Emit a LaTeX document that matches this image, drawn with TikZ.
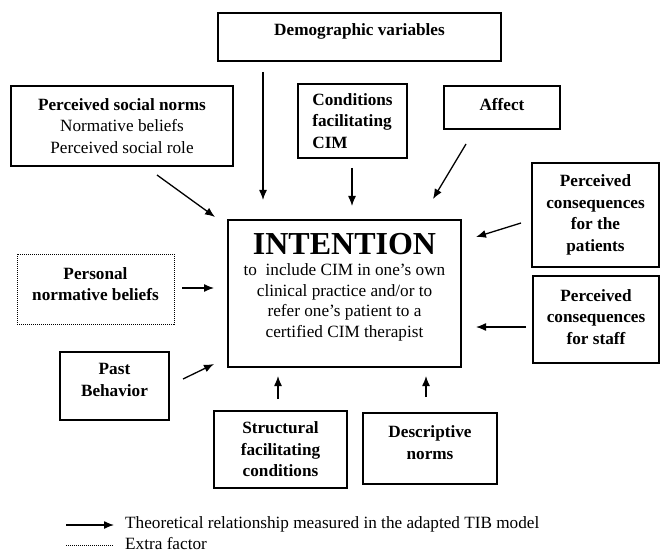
\documentclass[tikz,border=0pt]{standalone}
\usepackage{fontspec}
\setmainfont{Liberation Serif}
\usetikzlibrary{arrows.meta}
\newcommand\lowstrut[1]{\rule[-#1]{0pt}{#1}}
\begin{document}
\begin{tikzpicture}[x=1pt,y=-1pt,
 box/.style={draw,line width=1.3pt,inner sep=0pt,align=center,font=\fontsize{17.2}{21.5}\selectfont\bfseries},
 dotbox/.style={box,line width=1pt,dash pattern=on 1pt off 1pt},
 arr/.style={line width=1.3pt,-{Latex[length=10pt,width=8pt]}},
 legtext/.style={anchor=west,inner sep=0pt,font=\fontsize{17.2}{20}\selectfont}]
\useasboundingbox (0,0) rectangle (660,553);
% boxes
\node[box,minimum width=283pt,minimum height=48pt] (demo) at (359.5,37) {Demographic variables\lowstrut{14pt}};
\node[box,minimum width=222pt,minimum height=80pt,font=\fontsize{17.2}{21.5}\selectfont] (social) at (122,126)
  {\textbf{Perceived social norms}\\Normative beliefs\\Perceived social role};
\node[box,minimum width=109pt,minimum height=74pt,align=left] (cond) at (352.5,121) {Conditions\\facilitating\\CIM};
\node[box,minimum width=116pt,minimum height=43pt] (affect) at (502,107.5) {Affect\lowstrut{7pt}};
\node[box,minimum width=127pt,minimum height=104pt] (patients) at (595.5,215) {Perceived\\consequences\\for the\\patients};
\node[box,minimum width=126pt,minimum height=87pt] (staff) at (596,319.5) {Perceived\\consequences\\for staff\lowstrut{5pt}};
\node[box,minimum width=233pt,minimum height=147pt,font=\fontsize{17.2}{20.5}\selectfont] (intent) at (344.5,293.5)
  {{\fontsize{32}{36}\selectfont\bfseries INTENTION}\\[1pt]to\ \ include CIM in one’s own\\clinical practice and/or to\\refer one’s patient to a\\certified CIM therapist\lowstrut{17pt}};
\node[dotbox,minimum width=157pt,minimum height=70pt] (personal) at (95.5,289) {Personal\\normative beliefs\lowstrut{10pt}};
\node[box,minimum width=109pt,minimum height=68pt] (past) at (114.5,386) {Past\\Behavior\lowstrut{12pt}};
\node[box,minimum width=133pt,minimum height=77pt] (struct) at (280.5,449.5) {Structural\\facilitating\\conditions};
\node[box,minimum width=134pt,minimum height=71pt] (descr) at (430,448.5) {Descriptive\\norms\lowstrut{12pt}};
% arrow end points
\coordinate (d1) at (263,72);  \coordinate (d2) at (263,200);
\coordinate (s1) at (157,175); \coordinate (s2) at (215,217);
\coordinate (c1) at (352,168); \coordinate (c2) at (352,206);
\coordinate (a1) at (466,144); \coordinate (a2) at (433,199);
\coordinate (p1) at (521,223); \coordinate (p2) at (476,237);
\coordinate (f1) at (526,327); \coordinate (f2) at (476,327);
\coordinate (n1) at (182,288); \coordinate (n2) at (214,288);
\coordinate (b1) at (183,379); \coordinate (b2) at (214,364);
\coordinate (t1) at (278,399); \coordinate (t2) at (278,376);
\coordinate (e1) at (426,397); \coordinate (e2) at (426,376);
\draw[arr] (d1) -- (d2);
\draw[arr] (s1) -- (s2);
\draw[arr] (c1) -- (c2);
\draw[arr] (a1) -- (a2);
\draw[arr] (p1) -- (p2);
\draw[arr] (f1) -- (f2);
\draw[arr] (n1) -- (n2);
\draw[arr] (b1) -- (b2);
\draw[arr] (t1) -- (t2);
\draw[arr] (e1) -- (e2);
% legend
\coordinate (l1) at (66,525); \coordinate (l2) at (114,525);
\coordinate (m1) at (66,545); \coordinate (m2) at (114,545);
\draw[arr] (l1) -- (l2);
\draw[line width=0.9pt,dash pattern=on 1pt off 1pt] (m1) -- (m2);
\node[legtext] (lt1) at (125,524) {Theoretical relationship measured in the adapted TIB model};
\node[legtext] (lt2) at (125,544) {Extra factor};
\end{tikzpicture}
\end{document}
